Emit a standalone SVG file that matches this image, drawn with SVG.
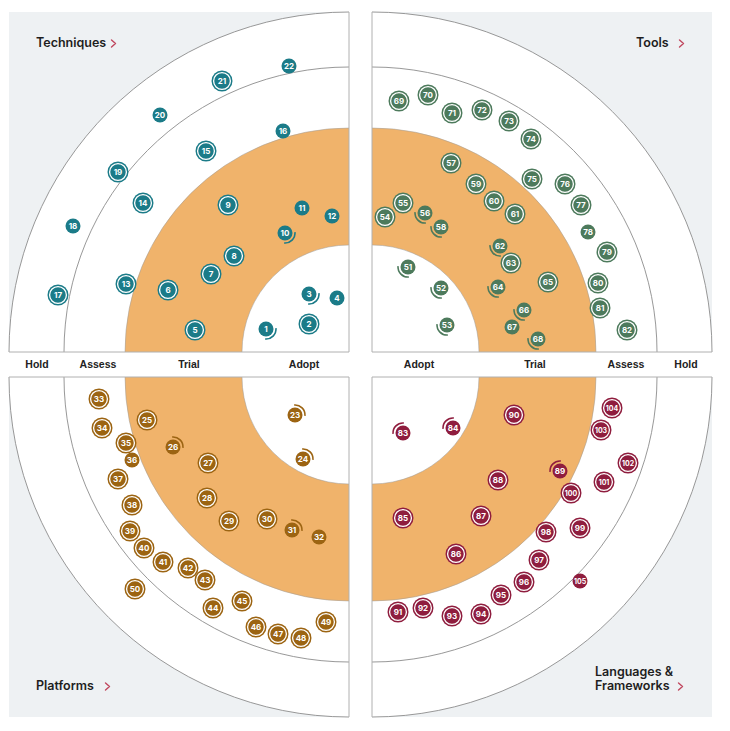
<svg xmlns="http://www.w3.org/2000/svg" xmlns:xlink="http://www.w3.org/1999/xlink" width="730" height="731" viewBox="0 0 730 731">
<style>
.bg{fill:#eef1f3}
.ln{fill:none;stroke:#8c8c8c;stroke-width:0.9}
.ln2{fill:none;stroke:#9a9a9a;stroke-width:0.5}
.ax{fill:none;stroke:#b0b0b0;stroke-width:1}
.tech{color:#1b7b88;fill:#1b7b88}
.tool{color:#4d7a5c;fill:#4d7a5c}
.plat{color:#9c6412;fill:#9c6412}
.lang{color:#8f1d3e;fill:#8f1d3e}
.t{fill:#fff;font-family:Inter,"Liberation Sans",sans-serif;font-weight:700;font-size:8px;text-anchor:middle}
.t3{font-size:7px}
.rl{fill:#222;font-family:"Liberation Sans",Arial,sans-serif;font-weight:700;font-size:10.5px;text-anchor:middle}
.ql{fill:#1e1e1e;font-family:Inter,"Liberation Sans",sans-serif;font-weight:600;font-size:12.5px}
.chev{fill:none;stroke:#c0475e;stroke-width:1.4;stroke-linecap:round;stroke-linejoin:round}
</style>
<defs>
<g id="quad">
<rect class="bg" x="-340" y="-340" width="340" height="340"/>
<path d="M0,0 H-340 A340,340 0 0 1 0,-340 Z" fill="#fff"/>
<path d="M0,0 H-224 A224,224 0 0 1 0,-224 Z" fill="#f0b36b"/>
<path d="M0,0 H-107 A107,107 0 0 1 0,-107 Z" fill="#fff"/>
<path class="ln" d="M-340,0 A340,340 0 0 1 0,-340"/>
<path class="ln" d="M-285,0 A285,285 0 0 1 0,-285"/>
<path class="ln2" d="M-224,0 A224,224 0 0 1 0,-224"/>
<path class="ln2" d="M-107,0 A107,107 0 0 1 0,-107"/>
<path class="ax" d="M0,-340 V0 H-340"/>
</g>
<g id="n"><circle r="10.5"/><circle r="8.4" fill="none" stroke="#fff" stroke-width="1.3"/></g>
<circle id="s" r="7.5"/>
<g id="mTL"><circle r="7.5"/><path d="M9.96,-0.87 A10,10 0 0 1 -0.87,9.96" fill="none" stroke="currentColor" stroke-width="1.6"/></g>
<g id="mTR"><circle r="7.5"/><path d="M0.87,9.96 A10,10 0 0 1 -9.96,-0.87" fill="none" stroke="currentColor" stroke-width="1.6"/></g>
<g id="mBL"><circle r="7.5"/><path d="M-0.87,-9.96 A10,10 0 0 1 9.96,0.87" fill="none" stroke="currentColor" stroke-width="1.6"/></g>
<g id="mBR"><circle r="7.5"/><path d="M-9.96,0.87 A10,10 0 0 1 0.87,-9.96" fill="none" stroke="currentColor" stroke-width="1.6"/></g>
</defs>
<rect width="730" height="731" fill="#fff"/>
<g id="radar">
<use xlink:href="#quad" transform="translate(349,352)"/>
<use xlink:href="#quad" transform="translate(372,352) scale(-1,1)"/>
<use xlink:href="#quad" transform="translate(349,377) scale(1,-1)"/>
<use xlink:href="#quad" transform="translate(372,377) scale(-1,-1)"/>
</g>
<g id="ring-labels">
<text class="rl" x="37" y="368">Hold</text>
<text class="rl" x="98" y="368">Assess</text>
<text class="rl" x="189" y="368">Trial</text>
<text class="rl" x="304" y="368">Adopt</text>
<text class="rl" x="419" y="368">Adopt</text>
<text class="rl" x="535" y="368">Trial</text>
<text class="rl" x="626" y="368">Assess</text>
<text class="rl" x="686" y="368">Hold</text>
</g>
<g id="q-techniques"><text class="ql" x="36" y="47">Techniques</text><path class="chev" d="M111.5,40 L115.5,43.5 L111.5,47"/></g>
<g id="q-tools"><text class="ql" x="636" y="47">Tools</text><path class="chev" d="M679.5,40 L683.5,43.5 L679.5,47"/></g>
<g id="q-platforms"><text class="ql" x="36" y="690">Platforms</text><path class="chev" d="M105.5,683 L109.5,686.5 L105.5,690"/></g>
<g id="q-languages"><text class="ql" x="595" y="676">Languages &amp;</text><text class="ql" x="595" y="690">Frameworks</text><path class="chev" d="M678.5,683 L682.5,686.5 L678.5,690"/></g>
<g id="connectors"/>
<g id="techniques">
<g id="b1" class="tech" transform="translate(266,329)"><use xlink:href="#mTL"/><text class="t" y="2.9">1</text></g>
<g id="b2" class="tech" transform="translate(309,324)"><use xlink:href="#n"/><text class="t" y="2.9">2</text></g>
<g id="b3" class="tech" transform="translate(309,294)"><use xlink:href="#mTL"/><text class="t" y="2.9">3</text></g>
<g id="b4" class="tech" transform="translate(337,298)"><use xlink:href="#s"/><text class="t" y="2.9">4</text></g>
<g id="b5" class="tech" transform="translate(195,330)"><use xlink:href="#n"/><text class="t" y="2.9">5</text></g>
<g id="b6" class="tech" transform="translate(168,290)"><use xlink:href="#n"/><text class="t" y="2.9">6</text></g>
<g id="b7" class="tech" transform="translate(211,274)"><use xlink:href="#n"/><text class="t" y="2.9">7</text></g>
<g id="b8" class="tech" transform="translate(234,256)"><use xlink:href="#n"/><text class="t" y="2.9">8</text></g>
<g id="b9" class="tech" transform="translate(228,205)"><use xlink:href="#n"/><text class="t" y="2.9">9</text></g>
<g id="b10" class="tech" transform="translate(285,233)"><use xlink:href="#mTL"/><text class="t" y="2.9">10</text></g>
<g id="b11" class="tech" transform="translate(302,208)"><use xlink:href="#s"/><text class="t" y="2.9">11</text></g>
<g id="b12" class="tech" transform="translate(332,216)"><use xlink:href="#s"/><text class="t" y="2.9">12</text></g>
<g id="b13" class="tech" transform="translate(126,284)"><use xlink:href="#n"/><text class="t" y="2.9">13</text></g>
<g id="b14" class="tech" transform="translate(143,203)"><use xlink:href="#n"/><text class="t" y="2.9">14</text></g>
<g id="b15" class="tech" transform="translate(206,151)"><use xlink:href="#n"/><text class="t" y="2.9">15</text></g>
<g id="b16" class="tech" transform="translate(283,131)"><use xlink:href="#s"/><text class="t" y="2.9">16</text></g>
<g id="b17" class="tech" transform="translate(58,295)"><use xlink:href="#n"/><text class="t" y="2.9">17</text></g>
<g id="b18" class="tech" transform="translate(73,226)"><use xlink:href="#s"/><text class="t" y="2.9">18</text></g>
<g id="b19" class="tech" transform="translate(118,172)"><use xlink:href="#n"/><text class="t" y="2.9">19</text></g>
<g id="b20" class="tech" transform="translate(160,115)"><use xlink:href="#s"/><text class="t" y="2.9">20</text></g>
<g id="b21" class="tech" transform="translate(222,81)"><use xlink:href="#n"/><text class="t" y="2.9">21</text></g>
<g id="b22" class="tech" transform="translate(289,66)"><use xlink:href="#s"/><text class="t" y="2.9">22</text></g>
</g>
<g id="platforms">
<g id="b23" class="plat" transform="translate(295,415)"><use xlink:href="#mBL"/><text class="t" y="2.9">23</text></g>
<g id="b24" class="plat" transform="translate(303,459)"><use xlink:href="#mBL"/><text class="t" y="2.9">24</text></g>
<g id="b25" class="plat" transform="translate(147,420)"><use xlink:href="#n"/><text class="t" y="2.9">25</text></g>
<g id="b26" class="plat" transform="translate(173,447)"><use xlink:href="#mBL"/><text class="t" y="2.9">26</text></g>
<g id="b27" class="plat" transform="translate(208,463)"><use xlink:href="#n"/><text class="t" y="2.9">27</text></g>
<g id="b28" class="plat" transform="translate(207,498)"><use xlink:href="#n"/><text class="t" y="2.9">28</text></g>
<g id="b29" class="plat" transform="translate(229,521)"><use xlink:href="#n"/><text class="t" y="2.9">29</text></g>
<g id="b30" class="plat" transform="translate(267,519)"><use xlink:href="#n"/><text class="t" y="2.9">30</text></g>
<g id="b31" class="plat" transform="translate(292,530)"><use xlink:href="#mBL"/><text class="t" y="2.9">31</text></g>
<g id="b32" class="plat" transform="translate(319,537)"><use xlink:href="#s"/><text class="t" y="2.9">32</text></g>
<g id="b33" class="plat" transform="translate(99,399)"><use xlink:href="#n"/><text class="t" y="2.9">33</text></g>
<g id="b34" class="plat" transform="translate(102,428)"><use xlink:href="#n"/><text class="t" y="2.9">34</text></g>
<g id="b35" class="plat" transform="translate(126,443)"><use xlink:href="#n"/><text class="t" y="2.9">35</text></g>
<g id="b36" class="plat" transform="translate(132,460)"><use xlink:href="#s"/><text class="t" y="2.9">36</text></g>
<g id="b37" class="plat" transform="translate(118,479)"><use xlink:href="#n"/><text class="t" y="2.9">37</text></g>
<g id="b38" class="plat" transform="translate(132,505)"><use xlink:href="#n"/><text class="t" y="2.9">38</text></g>
<g id="b39" class="plat" transform="translate(130,531)"><use xlink:href="#n"/><text class="t" y="2.9">39</text></g>
<g id="b40" class="plat" transform="translate(144,548)"><use xlink:href="#n"/><text class="t" y="2.9">40</text></g>
<g id="b41" class="plat" transform="translate(163,562)"><use xlink:href="#n"/><text class="t" y="2.9">41</text></g>
<g id="b42" class="plat" transform="translate(188,568)"><use xlink:href="#n"/><text class="t" y="2.9">42</text></g>
<g id="b43" class="plat" transform="translate(205,580)"><use xlink:href="#n"/><text class="t" y="2.9">43</text></g>
<g id="b44" class="plat" transform="translate(213,608)"><use xlink:href="#n"/><text class="t" y="2.9">44</text></g>
<g id="b45" class="plat" transform="translate(242,601)"><use xlink:href="#n"/><text class="t" y="2.9">45</text></g>
<g id="b46" class="plat" transform="translate(256,627)"><use xlink:href="#n"/><text class="t" y="2.9">46</text></g>
<g id="b47" class="plat" transform="translate(278,634)"><use xlink:href="#n"/><text class="t" y="2.9">47</text></g>
<g id="b48" class="plat" transform="translate(301,638)"><use xlink:href="#n"/><text class="t" y="2.9">48</text></g>
<g id="b49" class="plat" transform="translate(326,622)"><use xlink:href="#n"/><text class="t" y="2.9">49</text></g>
<g id="b50" class="plat" transform="translate(135,589)"><use xlink:href="#n"/><text class="t" y="2.9">50</text></g>
</g>
<g id="tools">
<g id="b51" class="tool" transform="translate(408,267)"><use xlink:href="#mTR"/><text class="t" y="2.9">51</text></g>
<g id="b52" class="tool" transform="translate(441,288)"><use xlink:href="#mTR"/><text class="t" y="2.9">52</text></g>
<g id="b53" class="tool" transform="translate(447,325)"><use xlink:href="#mTR"/><text class="t" y="2.9">53</text></g>
<g id="b54" class="tool" transform="translate(385,217)"><use xlink:href="#n"/><text class="t" y="2.9">54</text></g>
<g id="b55" class="tool" transform="translate(403,203)"><use xlink:href="#n"/><text class="t" y="2.9">55</text></g>
<g id="b56" class="tool" transform="translate(425,213)"><use xlink:href="#mTR"/><text class="t" y="2.9">56</text></g>
<g id="b57" class="tool" transform="translate(451,163)"><use xlink:href="#n"/><text class="t" y="2.9">57</text></g>
<g id="b58" class="tool" transform="translate(441,227)"><use xlink:href="#mTR"/><text class="t" y="2.9">58</text></g>
<g id="b59" class="tool" transform="translate(476,184)"><use xlink:href="#n"/><text class="t" y="2.9">59</text></g>
<g id="b60" class="tool" transform="translate(494,201)"><use xlink:href="#n"/><text class="t" y="2.9">60</text></g>
<g id="b61" class="tool" transform="translate(515,214)"><use xlink:href="#n"/><text class="t" y="2.9">61</text></g>
<g id="b62" class="tool" transform="translate(500,246)"><use xlink:href="#mTR"/><text class="t" y="2.9">62</text></g>
<g id="b63" class="tool" transform="translate(511,263)"><use xlink:href="#n"/><text class="t" y="2.9">63</text></g>
<g id="b64" class="tool" transform="translate(498,287)"><use xlink:href="#mTR"/><text class="t" y="2.9">64</text></g>
<g id="b65" class="tool" transform="translate(548,282)"><use xlink:href="#n"/><text class="t" y="2.9">65</text></g>
<g id="b66" class="tool" transform="translate(524,310)"><use xlink:href="#mTR"/><text class="t" y="2.9">66</text></g>
<g id="b67" class="tool" transform="translate(512,327)"><use xlink:href="#s"/><text class="t" y="2.9">67</text></g>
<g id="b68" class="tool" transform="translate(538,339)"><use xlink:href="#mTR"/><text class="t" y="2.9">68</text></g>
<g id="b69" class="tool" transform="translate(399,101)"><use xlink:href="#n"/><text class="t" y="2.9">69</text></g>
<g id="b70" class="tool" transform="translate(428,95)"><use xlink:href="#n"/><text class="t" y="2.9">70</text></g>
<g id="b71" class="tool" transform="translate(452,113)"><use xlink:href="#n"/><text class="t" y="2.9">71</text></g>
<g id="b72" class="tool" transform="translate(482,110)"><use xlink:href="#n"/><text class="t" y="2.9">72</text></g>
<g id="b73" class="tool" transform="translate(509,121)"><use xlink:href="#n"/><text class="t" y="2.9">73</text></g>
<g id="b74" class="tool" transform="translate(531,139)"><use xlink:href="#n"/><text class="t" y="2.9">74</text></g>
<g id="b75" class="tool" transform="translate(532,179)"><use xlink:href="#n"/><text class="t" y="2.9">75</text></g>
<g id="b76" class="tool" transform="translate(565,184)"><use xlink:href="#n"/><text class="t" y="2.9">76</text></g>
<g id="b77" class="tool" transform="translate(581,205)"><use xlink:href="#n"/><text class="t" y="2.9">77</text></g>
<g id="b78" class="tool" transform="translate(588,232)"><use xlink:href="#s"/><text class="t" y="2.9">78</text></g>
<g id="b79" class="tool" transform="translate(607,252)"><use xlink:href="#n"/><text class="t" y="2.9">79</text></g>
<g id="b80" class="tool" transform="translate(598,283)"><use xlink:href="#n"/><text class="t" y="2.9">80</text></g>
<g id="b81" class="tool" transform="translate(600,308)"><use xlink:href="#n"/><text class="t" y="2.9">81</text></g>
<g id="b82" class="tool" transform="translate(627,330)"><use xlink:href="#n"/><text class="t" y="2.9">82</text></g>
</g>
<g id="languages">
<g id="b83" class="lang" transform="translate(403,433)"><use xlink:href="#mBR"/><text class="t" y="2.9">83</text></g>
<g id="b84" class="lang" transform="translate(453,428)"><use xlink:href="#mBR"/><text class="t" y="2.9">84</text></g>
<g id="b85" class="lang" transform="translate(403,518)"><use xlink:href="#n"/><text class="t" y="2.9">85</text></g>
<g id="b86" class="lang" transform="translate(456,554)"><use xlink:href="#n"/><text class="t" y="2.9">86</text></g>
<g id="b87" class="lang" transform="translate(481,516)"><use xlink:href="#n"/><text class="t" y="2.9">87</text></g>
<g id="b88" class="lang" transform="translate(498,480)"><use xlink:href="#n"/><text class="t" y="2.9">88</text></g>
<g id="b89" class="lang" transform="translate(560,471)"><use xlink:href="#mBR"/><text class="t" y="2.9">89</text></g>
<g id="b90" class="lang" transform="translate(514,415)"><use xlink:href="#n"/><text class="t" y="2.9">90</text></g>
<g id="b91" class="lang" transform="translate(398,612)"><use xlink:href="#n"/><text class="t" y="2.9">91</text></g>
<g id="b92" class="lang" transform="translate(423,608)"><use xlink:href="#n"/><text class="t" y="2.9">92</text></g>
<g id="b93" class="lang" transform="translate(452,616)"><use xlink:href="#n"/><text class="t" y="2.9">93</text></g>
<g id="b94" class="lang" transform="translate(481,614)"><use xlink:href="#n"/><text class="t" y="2.9">94</text></g>
<g id="b95" class="lang" transform="translate(501,595)"><use xlink:href="#n"/><text class="t" y="2.9">95</text></g>
<g id="b96" class="lang" transform="translate(524,582)"><use xlink:href="#n"/><text class="t" y="2.9">96</text></g>
<g id="b97" class="lang" transform="translate(539,560)"><use xlink:href="#n"/><text class="t" y="2.9">97</text></g>
<g id="b98" class="lang" transform="translate(546,532)"><use xlink:href="#n"/><text class="t" y="2.9">98</text></g>
<g id="b99" class="lang" transform="translate(580,528)"><use xlink:href="#n"/><text class="t" y="2.9">99</text></g>
<g id="b100" class="lang" transform="translate(571,493)"><use xlink:href="#n"/><text class="t t3" y="2.5">100</text></g>
<g id="b101" class="lang" transform="translate(604,482)"><use xlink:href="#n"/><text class="t t3" y="2.5">101</text></g>
<g id="b102" class="lang" transform="translate(628,463)"><use xlink:href="#n"/><text class="t t3" y="2.5">102</text></g>
<g id="b103" class="lang" transform="translate(601,430)"><use xlink:href="#n"/><text class="t t3" y="2.5">103</text></g>
<g id="b104" class="lang" transform="translate(612,408)"><use xlink:href="#n"/><text class="t t3" y="2.5">104</text></g>
<g id="b105" class="lang" transform="translate(580,581)"><use xlink:href="#s"/><text class="t t3" y="2.5">105</text></g>
</g>
</svg>
